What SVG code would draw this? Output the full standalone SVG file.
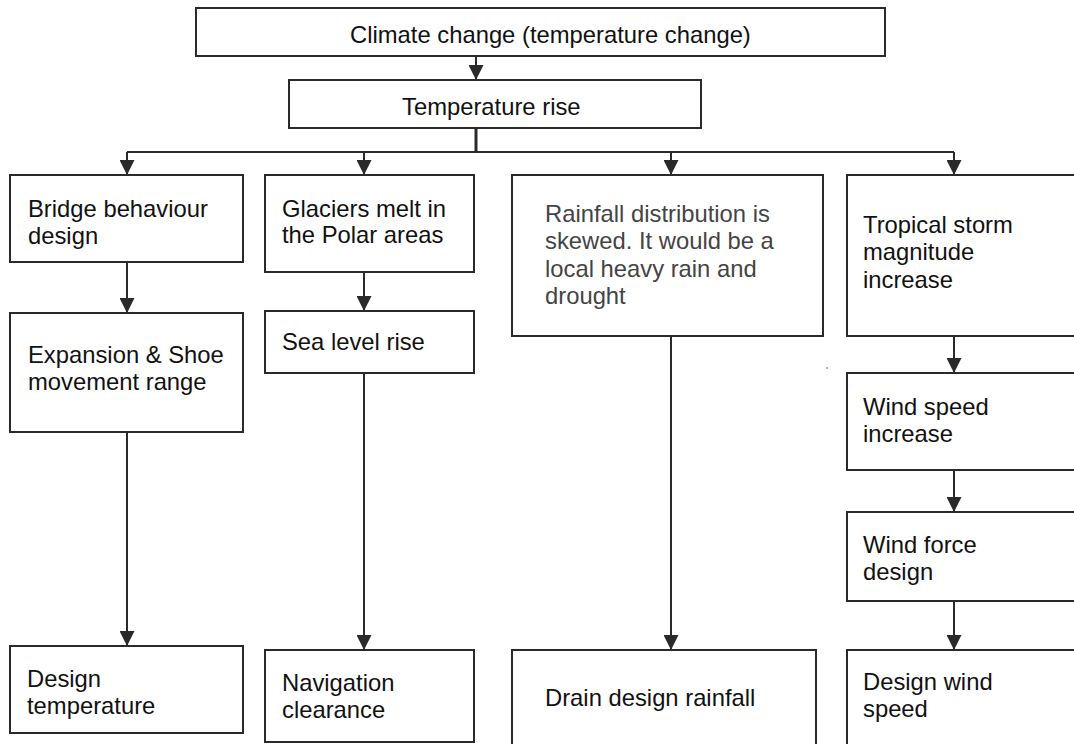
<svg xmlns="http://www.w3.org/2000/svg" width="1074" height="744" viewBox="0 0 1074 744">
  <style>
    .box { fill: #ffffff; stroke: #2a2a2a; stroke-width: 2; }
    .lbl { font-family: "Liberation Sans", Arial, sans-serif; font-size: 23.8px; fill: #111111; }
    .gray { fill: #444444; }
    .wire { fill: none; stroke: #2a2a2a; stroke-width: 2; }
    .trunk { fill: none; stroke: #2a2a2a; stroke-width: 3; }
  </style>
  <defs>
    <marker id="arrow" viewBox="0 0 15 15" refX="15" refY="7.5" markerWidth="15" markerHeight="15" markerUnits="userSpaceOnUse" orient="auto">
      <path d="M0,0 L15,7.5 L0,15 z" fill="#2a2a2a"/>
    </marker>
  </defs>
  <rect width="1074" height="744" fill="#ffffff"/>

  <g id="connectors">
    <line class="wire" x1="476" y1="56" x2="476" y2="80" marker-end="url(#arrow)"/>
    <line class="trunk" x1="476" y1="128" x2="476" y2="152"/>
    <line class="wire" x1="127" y1="152" x2="954" y2="152"/>
    <line class="wire" x1="127" y1="152" x2="127" y2="175" marker-end="url(#arrow)"/>
    <line class="wire" x1="364" y1="152" x2="364" y2="175" marker-end="url(#arrow)"/>
    <line class="wire" x1="671" y1="152" x2="671" y2="175" marker-end="url(#arrow)"/>
    <line class="wire" x1="954" y1="152" x2="954" y2="175" marker-end="url(#arrow)"/>
    <line class="wire" x1="127" y1="262" x2="127" y2="313" marker-end="url(#arrow)"/>
    <line class="wire" x1="127" y1="432" x2="127" y2="646" marker-end="url(#arrow)"/>
    <line class="wire" x1="364" y1="272" x2="364" y2="311" marker-end="url(#arrow)"/>
    <line class="wire" x1="364" y1="373" x2="364" y2="650" marker-end="url(#arrow)"/>
    <line class="wire" x1="671" y1="336" x2="671" y2="650" marker-end="url(#arrow)"/>
    <line class="wire" x1="954" y1="336" x2="954" y2="373" marker-end="url(#arrow)"/>
    <line class="wire" x1="954" y1="470" x2="954" y2="512" marker-end="url(#arrow)"/>
    <line class="wire" x1="954" y1="601" x2="954" y2="650" marker-end="url(#arrow)"/>
  </g>

  <g id="climate-change">
    <rect class="box" x="196" y="8" width="689" height="48"/>
    <text class="lbl" x="350" y="43">Climate change (temperature change)</text>
  </g>
  <g id="temperature-rise">
    <rect class="box" x="289" y="80" width="412" height="48"/>
    <text class="lbl" x="402" y="115">Temperature rise</text>
  </g>

  <g id="bridge-behaviour">
    <rect class="box" x="10" y="175" width="233" height="87"/>
    <text class="lbl" x="28" y="217">Bridge behaviour</text>
    <text class="lbl" x="28" y="244">design</text>
  </g>
  <g id="expansion-shoe">
    <rect class="box" x="10" y="313" width="233" height="119"/>
    <text class="lbl" x="28" y="363">Expansion &amp; Shoe</text>
    <text class="lbl" x="28" y="390">movement range</text>
  </g>
  <g id="design-temperature">
    <rect class="box" x="10" y="646" width="233" height="87"/>
    <text class="lbl" x="27" y="687">Design</text>
    <text class="lbl" x="27" y="714">temperature</text>
  </g>

  <g id="glaciers-melt">
    <rect class="box" x="265" y="175" width="209" height="97"/>
    <text class="lbl" x="282" y="217">Glaciers melt in</text>
    <text class="lbl" x="282" y="243">the Polar areas</text>
  </g>
  <g id="sea-level-rise">
    <rect class="box" x="265" y="311" width="209" height="62"/>
    <text class="lbl" x="282" y="350">Sea level rise</text>
  </g>
  <g id="navigation-clearance">
    <rect class="box" x="265" y="650" width="209" height="92"/>
    <text class="lbl" x="282" y="691">Navigation</text>
    <text class="lbl" x="282" y="718">clearance</text>
  </g>

  <g id="rainfall-distribution">
    <rect class="box" x="512" y="175" width="311" height="161"/>
    <text class="lbl gray" x="545" y="222">Rainfall distribution is</text>
    <text class="lbl gray" x="545" y="249">skewed. It would be a</text>
    <text class="lbl gray" x="545" y="277">local heavy rain and</text>
    <text class="lbl gray" x="545" y="304">drought</text>
  </g>
  <g id="drain-design-rainfall">
    <rect class="box" x="512" y="650" width="304" height="100"/>
    <text class="lbl" x="545" y="706">Drain design rainfall</text>
  </g>

  <g id="tropical-storm">
    <rect class="box" x="847" y="175" width="240" height="161"/>
    <text class="lbl" x="863" y="233">Tropical storm</text>
    <text class="lbl" x="863" y="260">magnitude</text>
    <text class="lbl" x="863" y="288">increase</text>
  </g>
  <g id="wind-speed-increase">
    <rect class="box" x="847" y="373" width="240" height="97"/>
    <text class="lbl" x="863" y="415">Wind speed</text>
    <text class="lbl" x="863" y="442">increase</text>
  </g>
  <g id="wind-force-design">
    <rect class="box" x="847" y="512" width="240" height="89"/>
    <text class="lbl" x="863" y="553">Wind force</text>
    <text class="lbl" x="863" y="580">design</text>
  </g>
  <g id="design-wind-speed">
    <rect class="box" x="847" y="650" width="240" height="100"/>
    <text class="lbl" x="863" y="690">Design wind</text>
    <text class="lbl" x="863" y="717">speed</text>
  </g>

  <circle cx="827" cy="368" r="0.8" fill="#555555"/>
</svg>
